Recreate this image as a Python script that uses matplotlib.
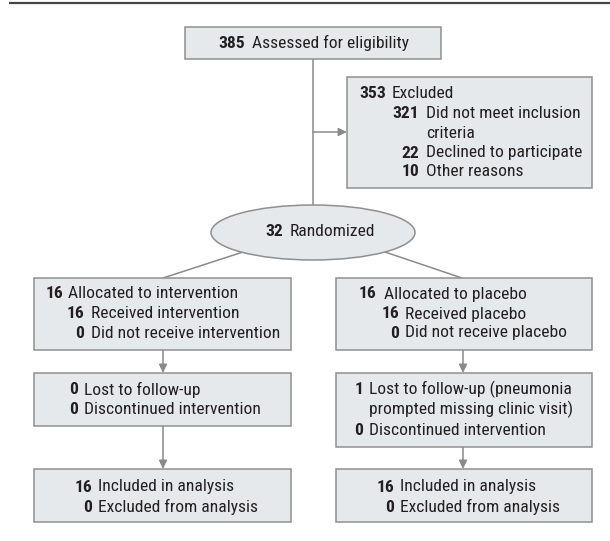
import matplotlib
matplotlib.use("Agg")
import matplotlib.pyplot as plt
from matplotlib.patches import Rectangle, Ellipse, FancyArrowPatch
from matplotlib import font_manager

# ---------------- data ----------------
assessed_n = 385
assessed_label = "Assessed for eligibility"
excluded_n = 353
excluded_label = "Excluded"
excluded_reason_n = [321, 22, 10]
excluded_reason_lines = [["Did not meet inclusion", "criteria"],
                         ["Declined to participate"],
                         ["Other reasons"]]
randomized_n = 32
randomized_label = "Randomized"

allocated_n = [16, 16]
allocated_label = ["Allocated to intervention", "Allocated to placebo"]
received_n = [16, 16]
received_label = ["Received intervention", "Received placebo"]
not_received_n = [0, 0]
not_received_label = ["Did not receive intervention", "Did not receive placebo"]

lost_n = [0, 1]
lost_lines = [["Lost to follow-up"],
              ["Lost to follow-up (pneumonia", "prompted missing clinic visit)"]]
discontinued_n = [0, 0]
discontinued_label = ["Discontinued intervention", "Discontinued intervention"]

included_n = [16, 16]
included_label = ["Included in analysis", "Included in analysis"]
excl_analysis_n = [0, 0]
excl_analysis_label = ["Excluded from analysis", "Excluded from analysis"]

# ---------------- style ----------------
avail = {f.name for f in font_manager.fontManager.ttflist}
family = [f for f in ["Liberation Sans Narrow", "Roboto Condensed", "DejaVu Sans"] if f in avail]
plt.rcParams['font.family'] = family
FS = 12.6
TXT = "#231f20"
FILL = "#e6e9ec"
EDGE = "#8f8f8f"
LINE = "#8a8a8a"

fig = plt.figure(figsize=(6.10, 5.41), dpi=100)
ax = fig.add_axes([0, 0, 1, 1])
ax.set_xlim(0, 610)
ax.set_ylim(541, 0)
ax.axis("off")

# top rule
ax.plot([9, 610], [3, 3], color="#444444", lw=1.6, solid_capstyle="butt")

def box(x0, y0, x1, y1):
    ax.add_patch(Rectangle((x0, y0), x1 - x0, y1 - y0, facecolor=FILL,
                           edgecolor=EDGE, lw=1.1, zorder=2))

def item(xr, xl, y, n, lines, dy=20):
    ax.text(xr, y, str(n), ha="right", va="center", fontsize=FS,
            fontweight="bold", color=TXT, zorder=3)
    for k, s in enumerate(lines):
        ax.text(xl, y + k * dy, s, ha="left", va="center", fontsize=FS,
                color=TXT, zorder=3)

def line(x0, y0, x1, y1):
    ax.plot([x0, x1], [y0, y1], color=LINE, lw=1.1, zorder=1,
            solid_capstyle="butt")

def arrow(x0, y0, x1, y1):
    ax.add_patch(FancyArrowPatch((x0, y0), (x1, y1),
                                 arrowstyle="-|>,head_length=5,head_width=2.4",
                                 color=LINE, lw=1.1, shrinkA=0, shrinkB=0,
                                 zorder=1))

# connectors
line(313, 59, 313, 206)
arrow(313, 132, 347, 132)
line(243, 252, 163, 278)
line(385, 252, 462, 278)
arrow(163, 350, 163, 373)
arrow(463, 350, 463, 373)
arrow(163, 426, 163, 469)
arrow(463, 447, 463, 469)

# top box
box(185, 27, 441, 59)
item(245, 252, 43, assessed_n, [assessed_label])

# excluded box
box(347, 77, 592, 188)
item(386, 392, 93, excluded_n, [excluded_label])
ys = [113, 153, 172]
for n, lines, y in zip(excluded_reason_n, excluded_reason_lines, ys):
    item(419, 426, y, n, lines)

# randomized ellipse
ax.add_patch(Ellipse((313, 232.5), 204, 55, facecolor=FILL, edgecolor=EDGE,
                     lw=1.1, zorder=2))
item(283, 290, 231, randomized_n, [randomized_label])

# arm boxes
arm_x0 = [34, 336]
arm_x1 = [291, 592]
alloc_pos = [(63, 68, 84, 91), (376, 384, 399, 405)]
lost_pos = [(78, 84), (363, 369)]
lost_bottom = [426, 447]
incl_pos = [(92, 98), (394, 400)]
for i in range(2):
    box(arm_x0[i], 278, arm_x1[i], 350)
    mr, ml, sr, sl = alloc_pos[i]
    item(mr, ml, 294, allocated_n[i], [allocated_label[i]])
    item(sr, sl, 314, received_n[i], [received_label[i]])
    item(sr, sl, 333, not_received_n[i], [not_received_label[i]])

    box(arm_x0[i], 373, arm_x1[i], lost_bottom[i])
    r, l = lost_pos[i]
    item(r, l, 389.5, lost_n[i], lost_lines[i])
    item(r, l, 389.5 + 20.5 * len(lost_lines[i]), discontinued_n[i],
         [discontinued_label[i]])

    box(arm_x0[i], 469, arm_x1[i], 522)
    r, l = incl_pos[i]
    item(r, l, 487, included_n[i], [included_label[i]])
    item(r, l, 507, excl_analysis_n[i], [excl_analysis_label[i]])

fig.savefig("out.png", dpi=100, facecolor="white")
